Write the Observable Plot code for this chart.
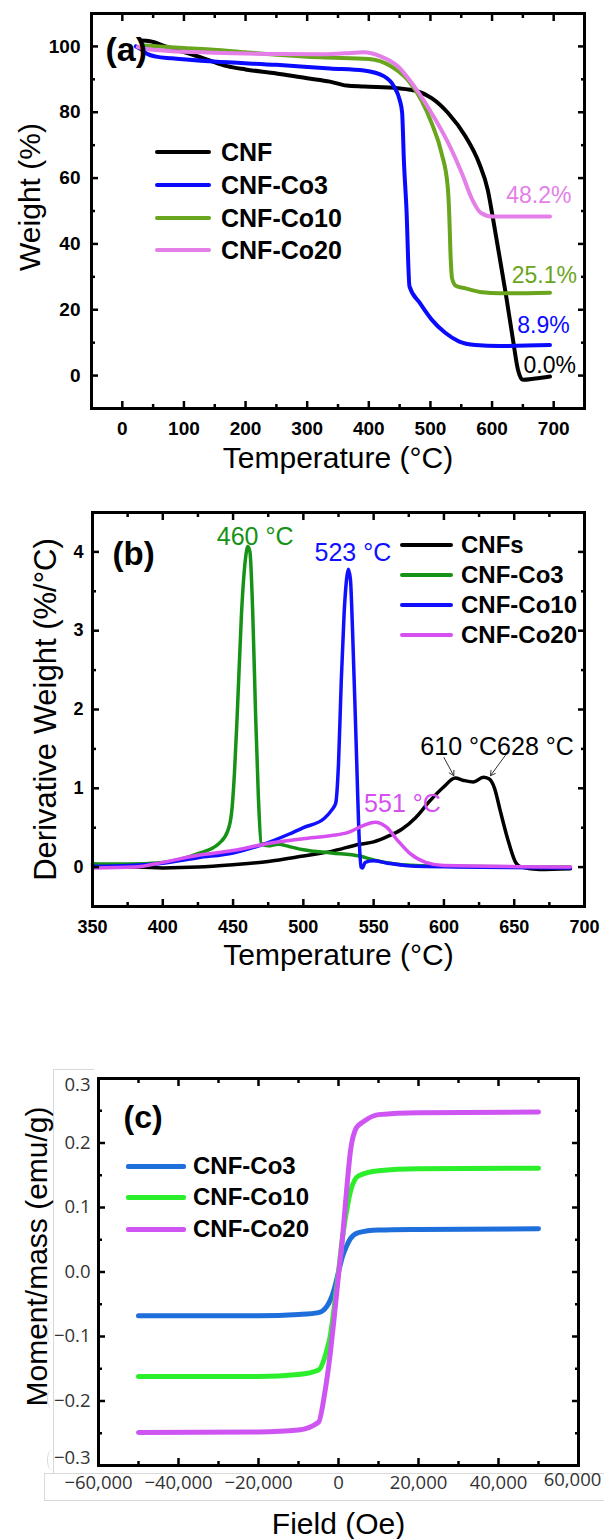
<!DOCTYPE html>
<html>
<head>
<meta charset="utf-8">
<script src="https://cdn.jsdelivr.net/npm/d3@7"></script>
<script src="https://cdn.jsdelivr.net/npm/@observablehq/plot@0.6"></script>
<style>
  html, body { margin: 0; padding: 0; background: #fff; }
  #fig { position: relative; width: 604px; height: 1539px; overflow: hidden; background: #fff;
         font-family: "Liberation Sans", Arial, Helvetica, sans-serif; }
  .panel { position: absolute; left: 0; }
  .sw { position: absolute; border-radius: 2px; }
  .lt { position: absolute; font-weight: bold; color: #000; white-space: nowrap; height: 30px; line-height: 30px; }
  .deco { position: absolute; border-color: #d9d9d9; border-style: solid; border-width: 0; }
</style>
</head>
<body>
<div id="fig"></div>
<script>
// ---------------- Panel (a): TGA weight (%) vs temperature (°C) ----------------
const seriesA = ["CNF", "CNF-Co3", "CNF-Co10", "CNF-Co20"];
const colorsA = ["#000000", "#0a0aff", "#6aa51e", "#e47fe8"];
const tgaCNF = [[30,101.8],[45,101.6],[70,100],[100,98.3],[138,96],[170,94],[200,93],[250,91.8],[300,90.3],[337,89.3],[364,88.1],[392,87.8],[447,87.3],[480,86.3],[502,84.3],[529,79.7],[557,72.6],[579,64.5],[593,56.4],[601,48.3],[612,36.2],[623,24],[634,10.8],[642,1.8],[650,-1.3],[670,-0.9],[694,-0.3]];
const tgaCo3 = [[22,100],[30,99.2],[40,97.8],[55,96.9],[80,96.4],[148,95.4],[250,94.4],[337,93.3],[392,92.7],[425,90.9],[441,87.8],[450,83.8],[454,80],[457,65],[461,51],[466,27.1],[483,22],[502,17],[524,13],[546,10.4],[573,9.3],[612,9.0],[694,9.3]];
const tgaCo10 = [[35,100.3],[60,100],[100,99.5],[148,99],[200,98.2],[250,97.5],[322,96.7],[400,96.2],[436,94],[463,89.9],[485,83.8],[502,76.7],[518,67.6],[528,57.5],[530,51.4],[533,35],[535,29.6],[541,27.3],[557,26.5],[584,25.3],[612,25],[694,25.2]];
const tgaCo20 = [[25,99.8],[40,99.2],[70,98.7],[148,98.1],[250,97.7],[322,97.6],[360,97.9],[392,98.2],[419,97],[447,94],[474,87.8],[502,79.7],[529,70.6],[551,61.5],[568,53.4],[582,49.4],[601,48.3],[694,48.3]];
const residueLabelsA = ["48.2%", "25.1%", "8.9%", "0.0%"];
const residueSeriesA = ["CNF-Co20", "CNF-Co10", "CNF-Co3", "CNF"];
const residueXA = [623, 632, 641, 651];
const residueYA = [54.6, 30.3, 15.1, 2.9];
const xTicksA = [0, 100, 200, 300, 400, 500, 600, 700];
const xMinorA = [-50, 50, 150, 250, 350, 450, 550, 650, 750];
const yTicksA = [0, 20, 40, 60, 80, 100];
const yMinorA = [-10, 10, 30, 50, 70, 90, 110];

// ---------------- Panel (b): DTG derivative weight (%/°C) ----------------
const seriesB = ["CNFs", "CNF-Co3", "CNF-Co10", "CNF-Co20"];
const colorsB = ["#000000", "#169216", "#1010ff", "#d64ff0"];
const dtgCNFs = [[350,0.04],[360,0.02],[380,0.0],[400,-0.01],[425,0.0],[450,0.03],[475,0.07],[500,0.14],[520,0.2],[540,0.29],[550,0.32],[560,0.39],[570,0.48],[580,0.63],[590,0.84],[600,1.02],[608,1.13],[614,1.1],[621,1.08],[628,1.14],[632,1.12],[636,1.0],[640,0.72],[645,0.38],[651,0.06],[655,0.0],[668,-0.03],[690,-0.02]];
const dtgCo3 = [[350,0.04],[375,0.04],[400,0.06],[425,0.17],[440,0.3],[446,0.45],[449,0.7],[451,1.2],[453,1.95],[456,3.22],[459,3.94],[460.5,4.07],[462,4.0],[464,3.22],[466,1.95],[468,0.89],[470,0.3],[475,0.27],[482,0.29],[490,0.26],[500,0.22],[520,0.18],[540,0.14],[550,0.09],[570,0.03],[600,0.01],[690,0.0]];
const dtgCo10 = [[350,0.01],[375,0.02],[400,0.05],[425,0.12],[450,0.18],[470,0.28],[490,0.42],[500,0.5],[515,0.62],[520,0.72],[523,0.81],[525,1.31],[527,2.38],[529,3.22],[531,3.69],[532,3.78],[533.5,3.65],[535,3.0],[537.5,1.6],[540,0.25],[541,0.0],[542,-0.01],[544,0.06],[550,0.08],[560,0.05],[580,0.01],[690,-0.01]];
const dtgCo20 = [[350,-0.01],[380,0.0],[400,0.06],[425,0.15],[450,0.21],[475,0.3],[500,0.36],[520,0.4],[532,0.44],[543,0.53],[551,0.57],[559,0.51],[567,0.34],[576,0.17],[587,0.06],[600,0.02],[690,0.0]];
const peakLabelsB = ["460 °C", "523 °C", "551 °C", "610 °C628 °C"];
const peakSeriesB = ["CNF-Co3", "CNF-Co10", "CNF-Co20", "CNFs"];
const peakLabelXB = [465.7, 535.2, 570.5, 637.8];
const peakLabelYB = [4.19, 3.98, 0.805, 1.524];
const arrowFromB = [[600, 1.39], [643.8, 1.42]];
const arrowToB = [[607, 1.16], [633.1, 1.16]];
const xTicksB = [350, 400, 450, 500, 550, 600, 650, 700];
const xMinorB = [375, 425, 475, 525, 575, 625, 675];
const yTicksB = [0, 1, 2, 3, 4];
const yMinorB = [-0.5, 0.5, 1.5, 2.5, 3.5, 4.5];

// ---------------- Panel (c): VSM moment/mass (emu/g) vs field (Oe) ----------------
const seriesC = ["CNF-Co3", "CNF-Co10", "CNF-Co20"];
const colorsC = ["#1e6fdb", "#2aef2a", "#cf55f2"];
const vsmCo3 = [[-50000,-0.068],[-20000,-0.068],[-10000,-0.066],[-5000,-0.063],[-3000,-0.054],[-2000,-0.043],[-1000,-0.025],[0,0],[1000,0.024],[2000,0.04],[3000,0.052],[5000,0.061],[10000,0.065],[20000,0.066],[50000,0.067]];
const vsmCo10 = [[-50000,-0.162],[-20000,-0.162],[-10000,-0.159],[-5000,-0.152],[-3000,-0.123],[-2000,-0.097],[-1000,-0.051],[0,0],[1000,0.053],[2000,0.094],[3000,0.125],[5000,0.149],[10000,0.157],[20000,0.16],[50000,0.161]];
const vsmCo20 = [[-50000,-0.249],[-20000,-0.248],[-10000,-0.245],[-5000,-0.233],[-3500,-0.19],[-2000,-0.123],[-1000,-0.066],[0,-0.005],[1000,0.053],[2000,0.125],[3000,0.188],[4500,0.224],[6000,0.232],[10000,0.244],[20000,0.247],[50000,0.248]];
const xTicksC = [-60000, -40000, -20000, 0, 20000, 40000];
const xEndTickC = [60000];
const xMinorC = [-50000, -30000, -10000, 10000, 30000, 50000];
const yTicksC = [-0.2, -0.1, 0, 0.1, 0.2];
const yTopTickC = [0.3];
const yBottomTickC = [-0.3];
const yMinorC = [-0.25, -0.15, -0.05, 0.05, 0.15, 0.25];

// ---------------- helpers ----------------
const FONT = '"Liberation Sans", Arial, Helvetica, sans-serif';
const rows = (arr, s) => arr.map(([x, y]) => ({x, y, s}));

function frameAxes({xMajor, xMinor, yMajor, yMinor, sw}) {
  const blank = {label: null, tickFormat: () => "", strokeWidth: sw};
  const out = [];
  for (const anchor of ["bottom", "top"]) {
    out.push(Plot.axisX({...blank, anchor, ticks: xMajor, tickSize: -7}));
    out.push(Plot.axisX({...blank, anchor, ticks: xMinor, tickSize: -4}));
  }
  for (const anchor of ["left", "right"]) {
    out.push(Plot.axisY({...blank, anchor, ticks: yMajor, tickSize: -7}));
    out.push(Plot.axisY({...blank, anchor, ticks: yMinor, tickSize: -4}));
  }
  return out;
}
const xLab = (ticks, fmt, pad, lab, extra = {}) =>
  Plot.axisX({anchor: "bottom", ticks, tickSize: 0, tickPadding: pad, tickFormat: fmt, label: null, ...lab, ...extra});
const yLab = (ticks, fmt, pad, lab, extra = {}) =>
  Plot.axisY({anchor: "left", ticks, tickSize: 0, tickPadding: pad, tickFormat: fmt, label: null, ...lab, ...extra});

const fig = document.getElementById("fig");
function place(svg, top) {
  const d = document.createElement("div");
  d.className = "panel";
  d.style.top = top + "px";
  d.appendChild(svg);
  fig.appendChild(d);
}
function legend(names, colors, {x0, x1, xt, ys, thick, size}) {
  names.forEach((n, i) => {
    const s = document.createElement("div");
    s.className = "sw";
    s.style.left = x0 + "px"; s.style.width = (x1 - x0) + "px";
    s.style.top = (ys[i] - thick / 2) + "px"; s.style.height = thick + "px";
    s.style.background = colors[i];
    fig.appendChild(s);
    const t = document.createElement("div");
    t.className = "lt";
    t.style.left = xt + "px"; t.style.top = (ys[i] - 15) + "px";
    t.style.fontSize = size + "px";
    t.textContent = n;
    fig.appendChild(t);
  });
}

// ---------------- Panel (a) ----------------
const labAB = {fontWeight: "bold"};
const dataA = [...rows(tgaCNF, "CNF"), ...rows(tgaCo3, "CNF-Co3"), ...rows(tgaCo10, "CNF-Co10"), ...rows(tgaCo20, "CNF-Co20")];
const annA = residueLabelsA.map((t, i) => ({t, s: residueSeriesA[i], x: residueXA[i], y: residueYA[i]}));
const plotA = Plot.plot({
  width: 604, height: 490,
  marginTop: 13, marginBottom: 82, marginLeft: 91, marginRight: 20,
  x: {domain: [-50, 750]},
  y: {domain: [-10, 110]},
  color: {domain: seriesA, range: colorsA},
  style: {fontFamily: FONT, background: "#fff", color: "#000", overflow: "visible"},
  marks: [
    Plot.line(dataA, {x: "x", y: "y", z: "s", stroke: "s", strokeWidth: 4, curve: "monotone-x", strokeLinejoin: "round"}),
    Plot.text(annA, {x: "x", y: "y", text: "t", fill: "s", fontSize: 23, textAnchor: "start", lineAnchor: "middle"}),
    Plot.frame({stroke: "#000", strokeWidth: 3}),
    ...frameAxes({xMajor: xTicksA, xMinor: xMinorA, yMajor: yTicksA, yMinor: yMinorA, sw: 2.5}),
    xLab(xTicksA, d => String(d), 13, {...labAB, fontSize: 19}),
    yLab(yTicksA, d => String(d), 11, {...labAB, fontSize: 19}),
    Plot.text(["(a)"], {text: d => d, frameAnchor: "top-left", dx: 14, dy: 37, textAnchor: "start", lineAnchor: "middle", fontSize: 34, fontWeight: "bold"}),
    Plot.text(["Temperature (°C)"], {text: d => d, frameAnchor: "bottom", dy: 50, textAnchor: "middle", lineAnchor: "middle", fontSize: 30}),
    Plot.text(["Weight (%)"], {text: d => d, frameAnchor: "left", rotate: -90, dx: -61, dy: -14, textAnchor: "middle", lineAnchor: "middle", fontSize: 30})
  ]
});
place(plotA, 0);
legend(seriesA, colorsA, {x0: 155, x1: 211, xt: 221, ys: [152, 185, 218, 250], thick: 4, size: 25});

// ---------------- Panel (b) ----------------
const dataB = [...rows(dtgCNFs, "CNFs"), ...rows(dtgCo3, "CNF-Co3"), ...rows(dtgCo10, "CNF-Co10"), ...rows(dtgCo20, "CNF-Co20")];
const annB = peakLabelsB.map((t, i) => ({t, s: peakSeriesB[i], x: peakLabelXB[i], y: peakLabelYB[i]}));
const arrowsB = arrowFromB.map(([x1, y1], i) => ({x1, y1, x2: arrowToB[i][0], y2: arrowToB[i][1]}));
const plotB = Plot.plot({
  width: 604, height: 510,
  marginTop: 22, marginBottom: 94, marginLeft: 92, marginRight: 20,
  x: {domain: [350, 700]},
  y: {domain: [-0.5, 4.5]},
  color: {domain: seriesB, range: colorsB},
  style: {fontFamily: FONT, background: "#fff", color: "#000", overflow: "visible"},
  marks: [
    Plot.line(dataB, {x: "x", y: "y", z: "s", stroke: "s", strokeWidth: 3.5, curve: "monotone-x", strokeLinejoin: "round"}),
    Plot.arrow(arrowsB, {x1: "x1", y1: "y1", x2: "x2", y2: "y2", stroke: "#333", strokeWidth: 1, headLength: 8, bend: 0}),
    Plot.text(annB, {x: "x", y: "y", text: "t", fill: "s", fontSize: 25, textAnchor: "middle", lineAnchor: "middle"}),
    Plot.frame({stroke: "#000", strokeWidth: 3}),
    ...frameAxes({xMajor: xTicksB, xMinor: xMinorB, yMajor: yTicksB, yMinor: yMinorB, sw: 2.5}),
    xLab(xTicksB, d => String(d), 14, {...labAB, fontSize: 18}),
    yLab(yTicksB, d => String(d), 9, {...labAB, fontSize: 18}),
    Plot.text(["(b)"], {text: d => d, frameAnchor: "top-left", dx: 20, dy: 42, textAnchor: "start", lineAnchor: "middle", fontSize: 33, fontWeight: "bold"}),
    Plot.text(["Temperature (°C)"], {text: d => d, frameAnchor: "bottom", dy: 49, textAnchor: "middle", lineAnchor: "middle", fontSize: 30}),
    Plot.text(["Derivative Weight (%/°C)"], {text: d => d, frameAnchor: "left", rotate: -90, dx: -46, dy: 0, textAnchor: "middle", lineAnchor: "middle", fontSize: 31})
  ]
});
place(plotB, 490);
legend(seriesB, colorsB, {x0: 400, x1: 453, xt: 461, ys: [545, 575, 605, 635], thick: 4, size: 24});

// ---------------- Panel (c) ----------------
// light grey boxes around the pasted tick-label strips (decoration)
[
  {left: 53, top: 1069, width: 40, height: 404, bw: "1px 0 0 1px"},
  {left: 44, top: 1473, width: 600, height: 26, bw: "1px 0 1px 1px"},
  {left: 47, top: 1322, width: 8, height: 22, bw: "0 0 0 1px", r: "50%"},
  {left: 47, top: 1389, width: 8, height: 20, bw: "0 0 0 1px", r: "50%"},
  {left: 47, top: 1450, width: 8, height: 20, bw: "0 0 0 1px", r: "50%"}
].forEach(b => {
  const d = document.createElement("div");
  d.className = "deco";
  d.style.left = b.left + "px"; d.style.top = b.top + "px";
  d.style.width = b.width + "px"; d.style.height = b.height + "px";
  d.style.borderWidth = b.bw;
  if (b.r) d.style.borderRadius = b.r;
  fig.appendChild(d);
});

const labC = {fontSize: 18.5, fontFamily: '"Open Sans", "Noto Sans", sans-serif', color: "#333"};
const dataC = [...rows(vsmCo3, "CNF-Co3"), ...rows(vsmCo10, "CNF-Co10"), ...rows(vsmCo20, "CNF-Co20")];
const plotC = Plot.plot({
  width: 604, height: 539,
  marginTop: 78, marginBottom: 74, marginLeft: 98, marginRight: 26,
  x: {domain: [-60000, 60000]},
  y: {domain: [-0.3, 0.3]},
  color: {domain: seriesC, range: colorsC},
  style: {fontFamily: FONT, background: "transparent", color: "#000", overflow: "visible"},
  marks: [
    Plot.line(dataC, {x: "x", y: "y", z: "s", stroke: "s", strokeWidth: 5, curve: "monotone-x", strokeLinejoin: "round", strokeLinecap: "round"}),
    Plot.frame({stroke: "#000", strokeWidth: 3}),
    ...frameAxes({xMajor: [-40000, -20000, 0, 20000, 40000], xMinor: xMinorC, yMajor: yTicksC, yMinor: yMinorC, sw: 2.5}),
    xLab(xTicksC, d3.format(","), 10, labC),
    xLab(xEndTickC, d3.format(","), 10, labC, {dx: -6, dy: -3}),
    yLab(yTicksC, d3.format(".1f"), 8, labC),
    yLab(yTopTickC, d3.format(".1f"), 8, labC, {dy: 7}),
    yLab(yBottomTickC, d3.format(".1f"), 8, labC, {dy: -7}),
    Plot.text(["(c)"], {text: d => d, frameAnchor: "top-left", dx: 25, dy: 39, textAnchor: "start", lineAnchor: "middle", fontSize: 32, fontWeight: "bold"}),
    Plot.text(["Field (Oe)"], {text: d => d, frameAnchor: "bottom", dy: 59, textAnchor: "middle", lineAnchor: "middle", fontSize: 30}),
    Plot.text(["Moment/mass (emu/g)"], {text: d => d, frameAnchor: "left", rotate: -90, dx: -61.5, dy: -15.5, textAnchor: "middle", lineAnchor: "middle", fontSize: 30})
  ]
});
place(plotC, 1000);
legend(seriesC, colorsC, {x0: 126, x1: 186, xt: 193, ys: [1166, 1197, 1229], thick: 5, size: 24});
</script>
</body>
</html>
